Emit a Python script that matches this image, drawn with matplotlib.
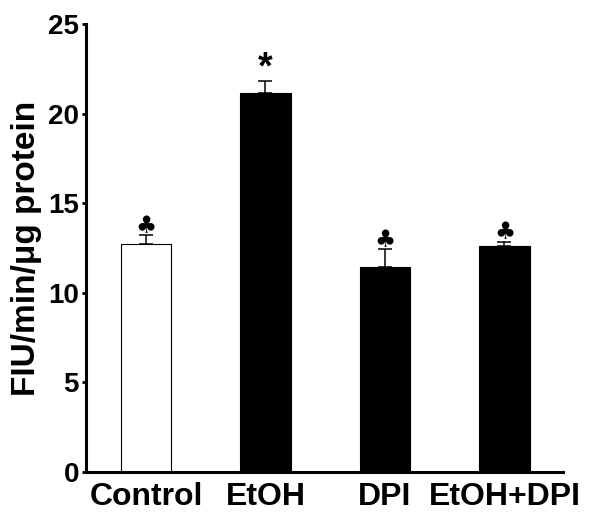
import matplotlib
matplotlib.use("Agg")
import matplotlib.pyplot as plt
import numpy as np

categories = ["Control", "EtOH", "DPI", "EtOH+DPI"]
means = [12.75, 21.15, 11.45, 12.6]
errors = [0.45, 0.65, 1.0, 0.25]
colors = ["white", "black", "black", "black"]
markers = ["\u2663", "*", "\u2663", "\u2663"]
yticks = [0, 5, 10, 15, 20, 25]

plt.rcParams['font.family'] = ['Liberation Sans', 'DejaVu Sans']
plt.rcParams['font.weight'] = 'bold'

fig = plt.figure(figsize=(6, 5.22), dpi=100)
ax = fig.add_axes([86/600, 50/522, (563-86)/600, (472-24)/522])

x = np.arange(len(categories))
ax.bar(x, means, width=0.42, color=colors, edgecolor="black", linewidth=0.8, zorder=2)
ax.errorbar(x, means, yerr=[np.zeros(len(errors)), errors], fmt="none",
            ecolor="black", elinewidth=1.1, capsize=5, capthick=1.1, zorder=1)

for xi, m, e, mk in zip(x, means, errors, markers):
    if mk == "*":
        ax.annotate(mk, (xi, m + e), xytext=(0, -4), textcoords="offset points",
                    ha="center", va="bottom", fontsize=27, fontweight="bold")
    else:
        ax.annotate(mk, (xi, m + e), xytext=(0, -2), textcoords="offset points",
                    ha="center", va="bottom", fontsize=17,
                    family=["DejaVu Sans"])

ax.set_xlim(-0.502, 3.49)
ax.set_ylim(0, 25)
ax.set_yticks(yticks)
ax.set_yticklabels([str(t) for t in yticks], fontsize=20, fontweight="bold")
ax.set_xticks(x)
ax.set_xticklabels(categories, fontsize=23, fontweight="bold")
ax.tick_params(axis="x", length=0, pad=7)
ax.tick_params(axis="y", length=3, width=2, pad=2)
ax.set_ylabel("FIU/min/\u03bcg protein", fontsize=24, fontweight="bold", labelpad=4)

for s in ["top", "right"]:
    ax.spines[s].set_visible(False)
for s in ["left", "bottom"]:
    ax.spines[s].set_linewidth(2.2)

fig.savefig("out.png", dpi=100)
